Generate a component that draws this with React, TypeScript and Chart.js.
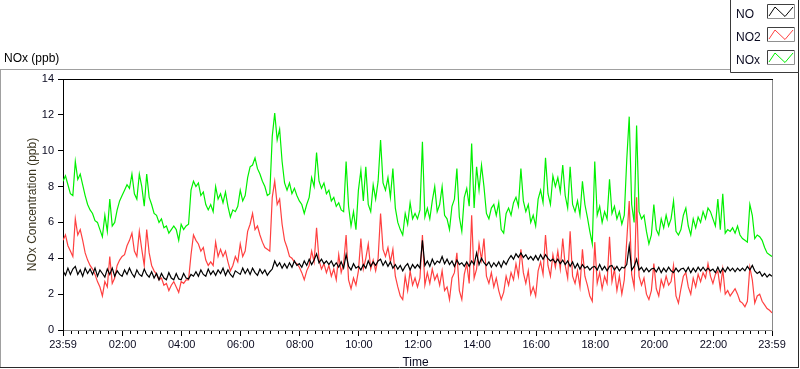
import React, { useEffect, useRef } from "react";
import { Chart, registerables } from "chart.js";

Chart.register(...registerables);

// ---- data ----
const SAMPLE_MINUTES = 5; // one reading every 5 minutes, starting at 23:59
const SERIES_NAMES = ["NO", "NO2", "NOx"];
const SERIES_COLORS = ["#000000", "#ff4040", "#00f000"];
const CHART_TITLE = "NOx (ppb)";
const Y_TITLE = "NOx Concentration (ppb)";
const X_TITLE = "Time";
const X_TICK_MINUTES = [0, 121, 241, 361, 481, 601, 721, 841, 961, 1081, 1201, 1321, 1440];
const X_TICK_LABELS = ["23:59", "02:00", "04:00", "06:00", "08:00", "10:00", "12:00", "14:00", "16:00", "18:00", "20:00", "22:00", "23:59"];
const X_MINOR_STEP = 15;
const Y_TICKS = [0, 2, 4, 6, 8, 10, 12, 14];

const NO_VALUES = [
  3.3, 3.05, 3.45, 3.1, 3.4, 3.55, 3.1, 3.35, 3.0, 3.45, 3.15, 3.4,
  3.1, 3.45, 3.0, 3.35, 3.15, 2.95, 3.4, 3.1, 3.45, 3.0, 3.3, 3.1,
  3.0, 3.35, 3.1, 3.45, 3.15, 2.95, 3.35, 3.1, 3.0, 3.4, 3.1, 2.95,
  3.25, 2.9, 3.15, 2.8, 3.15, 2.9, 2.8, 3.2, 2.9, 2.8, 3.15, 2.85,
  2.8, 3.15, 2.9, 2.85, 3.1, 3.0, 3.25, 3.0, 3.35, 3.1, 3.0, 3.4,
  3.1, 3.3, 3.05, 3.35, 3.15, 3.45, 3.05, 3.35, 3.1, 2.95, 3.3, 3.2,
  3.1, 3.45, 3.15, 3.4, 3.1, 3.45, 3.2, 3.05, 3.4, 3.15, 3.35, 3.05,
  3.25, 3.4, 3.85, 3.55, 3.75, 3.45, 3.7, 3.45, 3.75, 3.5, 3.85, 3.6,
  3.7, 3.5, 3.85, 3.6, 3.95, 3.65, 3.9, 4.25, 3.75, 3.95, 3.7, 3.85,
  3.65, 3.85, 3.55, 3.75, 3.5, 3.8, 3.45, 4.2, 3.55, 3.35, 3.7, 3.45,
  3.55, 3.35, 3.65, 3.45, 3.85, 3.55, 3.8, 3.6, 3.85, 3.95, 3.6, 3.85,
  3.55, 3.8, 3.45, 3.65, 3.4, 3.6, 3.3, 3.55, 3.7, 3.35, 3.65, 3.45,
  3.65, 3.45, 5.0, 3.6, 3.85, 3.55, 3.95, 3.65, 3.85, 3.75, 4.1, 3.7,
  3.95, 3.65, 3.85, 3.55, 3.9, 3.65, 3.75, 3.55, 3.8, 3.55, 3.85, 3.65,
  4.3, 3.65, 4.0, 3.75, 3.6, 3.8, 3.5, 3.75, 3.55, 3.8, 3.5, 3.85,
  3.65, 3.95, 4.15, 3.95, 4.25, 4.05, 4.3, 4.05, 4.2, 3.95, 4.1, 3.9,
  4.15, 3.9, 4.2, 3.95, 4.2, 4.0, 3.85, 3.95, 3.75, 3.95, 3.7, 3.9,
  3.65, 3.85, 3.55, 3.8, 3.45, 3.7, 3.4, 3.65, 3.45, 3.55, 3.35, 3.5,
  3.55, 3.35, 3.65, 3.35, 3.55, 3.3, 3.55, 3.6, 3.35, 3.55, 3.3, 3.5,
  3.45, 3.65, 4.7, 3.35, 3.55, 3.95, 3.35, 3.5, 3.25, 3.45, 3.25, 3.4,
  3.45, 3.25, 3.5, 3.2, 3.45, 3.25, 3.5, 3.3, 3.2, 3.45, 3.25, 3.4,
  3.45, 3.25, 3.5, 3.2, 3.45, 3.25, 3.5, 3.3, 3.5, 3.3, 3.45, 3.3,
  3.4, 3.2, 3.5, 3.2, 3.45, 3.25, 3.5, 3.3, 3.45, 3.25, 3.45, 3.3,
  3.45, 3.3, 3.55, 3.35, 3.6, 3.3, 3.15, 3.25, 3.0, 3.15, 2.95, 3.1,
  3.0,
];

const NO2_VALUES = [
  5.0, 5.3, 4.7, 4.4, 4.1, 6.2, 5.3, 5.6, 5.0, 4.3, 3.9, 3.6,
  3.4, 3.1, 2.7, 2.4, 1.9, 2.7, 2.4, 4.1, 2.6, 2.9, 3.6, 3.9,
  4.1, 4.2, 4.7, 5.0, 5.4, 4.4, 4.1, 5.5, 4.5, 3.6, 5.6, 4.3,
  3.6, 3.3, 3.1, 2.8, 2.9, 2.5, 2.6, 2.2, 2.5, 2.7, 2.4, 2.1,
  2.7, 2.6, 2.8, 2.8, 4.2, 5.3, 5.0, 4.8, 4.4, 4.6, 3.9, 3.6,
  3.8, 3.6, 4.9, 4.1, 4.5, 4.1, 4.4, 3.8, 3.3, 3.6, 4.1, 3.8,
  4.8, 4.1, 4.4, 5.5, 5.9, 6.5, 5.6, 5.8, 5.3, 4.9, 4.6, 4.5,
  4.4, 7.4, 8.3, 7.0, 7.3, 5.9, 5.0, 4.6, 4.1, 4.0, 3.8, 3.7,
  3.5, 3.2, 2.8, 3.3, 3.6, 4.4, 3.8, 5.7, 3.9, 3.4, 3.7, 3.2,
  3.6, 3.0, 3.4, 2.8, 4.2, 3.2, 3.7, 5.3, 2.8, 2.3, 2.9, 2.5,
  3.3, 5.1, 3.4, 4.0, 4.8, 3.4, 3.9, 3.3, 4.0, 6.5, 4.5, 4.1,
  4.6, 3.8, 4.5, 3.0, 2.4, 1.9, 1.7, 3.0, 2.2, 3.3, 2.5, 2.9,
  2.4, 2.9, 5.3, 2.5, 3.2, 2.6, 3.4, 2.8, 3.1, 2.5, 3.3, 2.2,
  2.4, 1.7, 2.9, 3.2, 4.3, 2.2, 1.7, 3.1, 3.7, 2.6, 6.4, 2.9,
  3.4, 4.8, 3.9, 5.1, 3.0, 2.6, 3.2, 2.4, 2.9, 2.2, 1.7, 2.1,
  3.0, 2.5, 3.2, 2.8, 3.7, 3.0, 4.5, 3.2, 2.6, 3.3, 2.0, 2.4,
  1.9, 3.3, 3.8, 3.1, 5.3, 3.6, 3.0, 4.2, 3.5, 4.4, 3.4, 5.1,
  3.6, 2.9, 5.5, 3.0, 2.6, 3.3, 2.4, 4.5, 3.0, 2.5, 1.9, 1.6,
  4.9, 2.6, 3.2, 2.3, 3.0, 2.6, 5.2, 2.7, 3.4, 2.2, 3.0, 2.0,
  2.8, 5.0, 7.2, 3.1, 2.4, 7.4, 3.0, 2.5, 2.9, 2.0, 1.7, 2.2,
  3.7, 2.3, 1.9, 2.8, 2.4, 3.0, 2.5, 2.7, 3.6, 1.9, 1.5, 2.3,
  3.0, 3.2, 2.4, 2.0, 2.9, 2.4, 3.1, 2.7, 3.2, 2.9, 3.7, 3.0,
  2.6, 3.1, 3.3, 2.3, 3.4, 2.0, 2.2, 1.9, 2.1, 2.3, 2.0, 1.6,
  1.5, 1.3, 1.6, 3.5, 2.8, 1.5, 1.9, 2.0, 1.6, 1.4, 1.2, 1.1,
  0.95,
];

const NOX_VALUES = [
  8.3, 8.6, 8.1, 7.6, 7.5, 9.4, 8.4, 8.7, 8.1, 7.5, 7.0, 6.7,
  6.5, 6.1, 6.0, 5.6, 5.2, 6.4, 5.5, 7.3, 5.8, 6.0, 6.7, 7.2,
  7.5, 7.8, 8.1, 7.9, 8.7, 7.6, 7.3, 8.7, 8.0, 6.9, 8.7, 7.4,
  7.0, 6.5, 6.4, 6.0, 6.2, 5.7, 5.8, 5.4, 5.6, 5.8, 5.6, 5.0,
  5.9, 5.6, 5.8, 5.9, 7.8, 8.3, 8.0, 8.2, 7.5, 7.7, 7.0, 6.7,
  7.0, 6.6, 8.0, 7.3, 7.6, 7.1, 7.7, 6.9, 6.3, 6.7, 6.6, 6.9,
  7.8, 7.2, 7.5, 8.5, 9.1, 9.2, 9.6, 9.0, 8.7, 8.3, 8.0, 7.5,
  7.6, 10.8, 12.1, 10.6, 11.2, 9.4, 8.2, 7.8, 8.2, 7.6, 7.9, 7.5,
  7.2, 7.0, 6.5, 7.0, 7.4, 8.5, 8.0, 9.9, 8.3, 7.9, 8.2, 7.6,
  7.8, 7.2, 7.4, 6.9, 7.1, 6.7, 6.6, 9.4, 6.9, 5.8, 6.6, 5.6,
  7.8, 8.9, 7.2, 9.1, 7.0, 6.6, 8.1, 7.3, 8.3, 10.6, 8.2, 7.8,
  8.5, 7.4, 9.0, 6.8, 6.0, 5.6, 5.3, 6.5, 5.9, 7.1, 6.2, 6.5,
  6.2, 6.7, 10.5, 6.3, 6.8, 6.2, 7.2, 8.0, 6.6, 7.0, 8.0, 6.4,
  6.2, 5.6, 6.9, 7.3, 9.0, 6.3, 5.5, 7.4, 7.9, 6.9, 10.4, 6.8,
  9.1, 7.8, 9.2, 8.0, 6.5, 6.2, 6.8, 7.0, 6.4, 7.1, 5.6, 5.4,
  6.5, 6.8, 6.4, 7.1, 7.4, 6.9, 9.0, 7.2, 6.6, 7.0, 6.0, 6.4,
  5.8, 7.3, 7.8, 7.1, 9.6, 7.6, 7.0, 8.6, 8.0, 8.5, 7.7, 9.2,
  7.5, 6.8, 9.1, 7.0, 6.6, 7.2, 6.4, 8.3, 7.0, 6.3, 5.5, 4.8,
  9.4, 6.4, 6.9, 6.0, 6.6, 6.2, 8.4, 6.5, 6.9, 6.2, 6.6, 5.9,
  6.4, 9.5, 11.9, 7.0, 6.0, 11.4, 6.6, 6.2, 6.4, 5.5, 4.8, 5.3,
  7.0, 5.6, 5.3, 6.2, 5.7, 6.4, 5.8, 6.2, 7.2, 5.5, 5.3, 5.6,
  6.4, 6.8, 5.8, 5.3, 6.2, 5.7, 6.3, 6.0, 6.6, 6.2, 6.8, 6.6,
  6.2, 5.8, 7.3, 5.6, 7.6, 5.4, 5.6, 5.5, 5.7, 5.4, 5.8, 5.3,
  5.1, 5.0, 4.9, 7.0, 6.4, 5.1, 5.3, 5.2, 5.0, 4.6, 4.3, 4.2,
  4.1,
];

const SERIES_VALUES = [NO_VALUES, NO2_VALUES, NOX_VALUES];

const FONT = '"Liberation Sans", Arial, sans-serif';
const TEXT_COLOR = "#0a0a20";

const decorPlugin = {
  id: "decor",
  afterDraw(chart: any) {
    const ctx = chart.ctx as CanvasRenderingContext2D;
    const { left, right, top, bottom } = chart.chartArea;
    const xs = chart.scales.x;
    const W = chart.width;
    const H = chart.height;
    ctx.save();

    // minor x ticks
    ctx.strokeStyle = "#000";
    ctx.lineWidth = 1;
    ctx.beginPath();
    const first = X_TICK_MINUTES[0];
    const last = X_TICK_MINUTES[X_TICK_MINUTES.length - 1];
    for (let m = first + 1 + X_MINOR_STEP; m < last; m += X_MINOR_STEP) {
      if (X_TICK_MINUTES.indexOf(m) >= 0) continue;
      const px = Math.round(xs.getPixelForValue(m)) + 0.5;
      ctx.moveTo(px, bottom + 1);
      ctx.lineTo(px, bottom + 4);
    }
    ctx.stroke();

    // plot top (black) and right (gray) edges
    ctx.beginPath();
    ctx.strokeStyle = "#000";
    ctx.moveTo(Math.round(left), Math.round(top) + 0.5);
    ctx.lineTo(Math.round(right) + 1, Math.round(top) + 0.5);
    ctx.stroke();
    ctx.beginPath();
    ctx.strokeStyle = "#8a8a8a";
    ctx.moveTo(Math.round(right) + 0.5, Math.round(top) + 1);
    ctx.lineTo(Math.round(right) + 0.5, Math.round(bottom) + 1);
    ctx.stroke();

    // outer frame
    const legL = 730;
    const legB = 72;
    const frameR = W - 2;
    ctx.beginPath();
    ctx.strokeStyle = "#a0a0a0";
    ctx.moveTo(0, 69.5);
    ctx.lineTo(legL, 69.5);
    ctx.moveTo(0.5, 69.5);
    ctx.lineTo(0.5, H - 1);
    ctx.stroke();
    ctx.beginPath();
    ctx.strokeStyle = "#2a2a2a";
    ctx.moveTo(0, H - 1.5);
    ctx.lineTo(frameR + 1, H - 1.5);
    ctx.moveTo(frameR + 0.5, 0);
    ctx.lineTo(frameR + 0.5, H - 1);
    ctx.stroke();

    // legend box
    ctx.fillStyle = "#ffffff";
    ctx.fillRect(legL + 1, 1, frameR - legL - 1, legB - 1);
    ctx.beginPath();
    ctx.strokeStyle = "#3a3a3a";
    ctx.moveTo(legL + 0.5, 0);
    ctx.lineTo(legL + 0.5, legB + 0.5);
    ctx.lineTo(frameR + 1, legB + 0.5);
    ctx.stroke();

    ctx.font = `12px ${FONT}`;
    ctx.textBaseline = "alphabetic";
    ctx.textAlign = "left";
    SERIES_NAMES.forEach((name, i) => {
      const baseY = 18 + i * 23;
      ctx.fillStyle = TEXT_COLOR;
      ctx.fillText(name, 736, baseY);
      const bx = 767;
      const by = baseY - 14;
      ctx.lineWidth = 1;
      ctx.beginPath();
      ctx.strokeStyle = "#404040";
      ctx.moveTo(bx + 0.5, by + 14.5);
      ctx.lineTo(bx + 0.5, by + 0.5);
      ctx.lineTo(bx + 27.5, by + 0.5);
      ctx.stroke();
      ctx.beginPath();
      ctx.strokeStyle = "#909090";
      ctx.moveTo(bx + 27.5, by + 0.5);
      ctx.lineTo(bx + 27.5, by + 14.5);
      ctx.lineTo(bx + 0.5, by + 14.5);
      ctx.stroke();
      ctx.beginPath();
      ctx.strokeStyle = SERIES_COLORS[i];
      ctx.moveTo(bx + 2, by + 12);
      ctx.lineTo(bx + 8, by + 3);
      ctx.lineTo(bx + 18, by + 12.5);
      ctx.lineTo(bx + 26, by + 3);
      ctx.stroke();
    });

    // titles
    ctx.fillStyle = "#000";
    ctx.font = `12px ${FONT}`;
    ctx.textAlign = "left";
    ctx.fillText(CHART_TITLE, 4, 62);

    ctx.fillStyle = TEXT_COLOR;
    ctx.textAlign = "center";
    ctx.fillText(X_TITLE, (left + right) / 2 - 2, 366);

    ctx.save();
    ctx.translate(36, (top + bottom) / 2);
    ctx.rotate(-Math.PI / 2);
    ctx.fillStyle = "#3a3520";
    ctx.textAlign = "center";
    ctx.fillText(Y_TITLE, 0, 0);
    ctx.restore();

    ctx.restore();
  },
};

export default function App() {
  const canvasRef = useRef<HTMLCanvasElement | null>(null);

  useEffect(() => {
    const canvas = canvasRef.current;
    if (!canvas) return;
    const datasets = SERIES_NAMES.map((name, i) => ({
      label: name,
      data: SERIES_VALUES[i].map((v, k) => ({ x: k * SAMPLE_MINUTES, y: v })),
      borderColor: SERIES_COLORS[i],
      backgroundColor: SERIES_COLORS[i],
      borderWidth: 1.2,
      pointRadius: 0,
      tension: 0,
      fill: false,
    }));

    const chart = new Chart(canvas, {
      type: "line",
      data: { datasets },
      options: {
        responsive: false,
        animation: false,
        devicePixelRatio: 1,
        layout: { padding: { left: 0, top: 79, right: 28, bottom: 0 } },
        plugins: {
          legend: { display: false },
          title: { display: false },
          tooltip: { enabled: false },
        },
        scales: {
          x: {
            type: "linear",
            min: X_TICK_MINUTES[0],
            max: X_TICK_MINUTES[X_TICK_MINUTES.length - 1],
            afterBuildTicks: (s: any) => {
              s.ticks = X_TICK_MINUTES.map((v) => ({ value: v }));
            },
            afterFit: (s: any) => {
              s.height = 39;
            },
            ticks: {
              autoSkip: false,
              maxRotation: 0,
              minRotation: 0,
              padding: 2,
              color: TEXT_COLOR,
              font: { family: FONT, size: 11 },
              callback: (_v: any, i: number) => X_TICK_LABELS[i],
            },
            grid: { drawOnChartArea: false, drawTicks: true, tickLength: 6, tickColor: "#000" },
            border: { display: true, color: "#8a8a8a", width: 1 },
          },
          y: {
            min: Y_TICKS[0],
            max: Y_TICKS[Y_TICKS.length - 1],
            afterBuildTicks: (s: any) => {
              s.ticks = Y_TICKS.map((v) => ({ value: v }));
            },
            afterFit: (s: any) => {
              s.width = 63;
            },
            ticks: {
              padding: 4,
              color: TEXT_COLOR,
              font: { family: FONT, size: 11 },
            },
            grid: { drawOnChartArea: false, drawTicks: true, tickLength: 5, tickColor: "#000" },
            border: { display: true, color: "#000", width: 1 },
          },
        },
      } as any,
      plugins: [decorPlugin],
    });
    return () => chart.destroy();
  }, []);

  return (
    <div style={{ position: "absolute", left: 0, top: 0, width: 800, height: 369, background: "#fff" }}>
      <canvas ref={canvasRef} width={800} height={369} style={{ display: "block" }} />
    </div>
  );
}
